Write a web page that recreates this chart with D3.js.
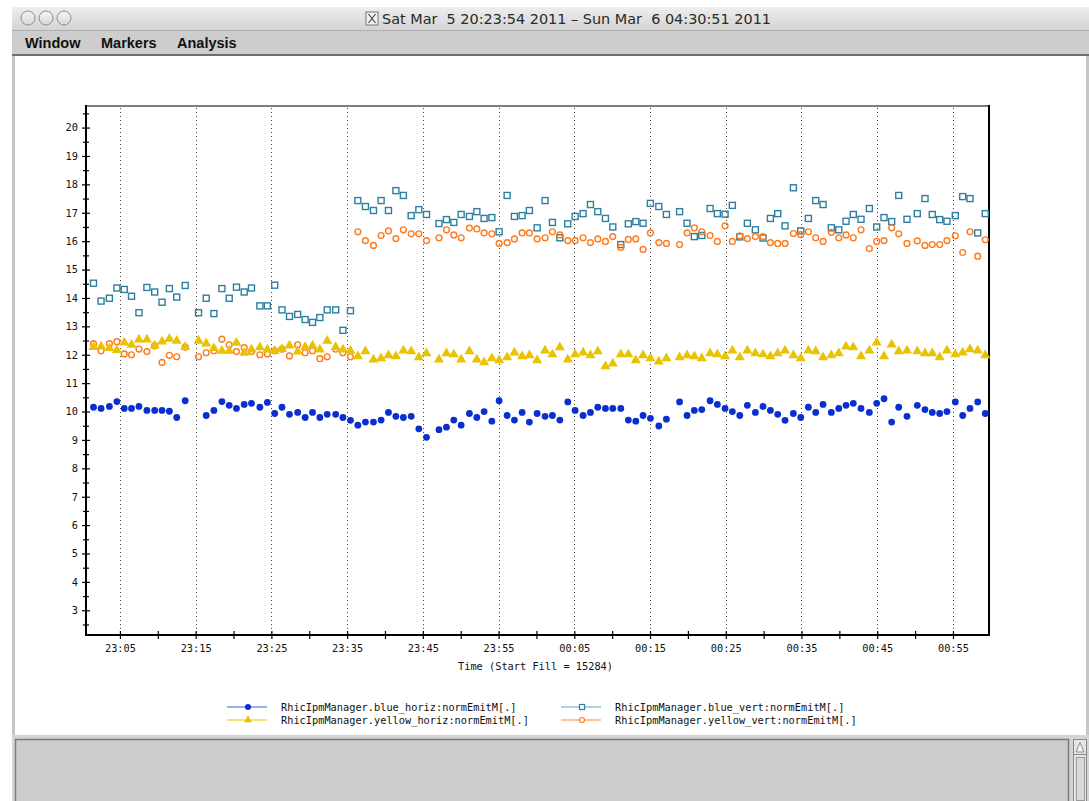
<!DOCTYPE html>
<html>
<head>
<meta charset="utf-8">
<script src="https://cdn.jsdelivr.net/npm/d3@7"></script>
<style>
  html, body { margin: 0; padding: 0; background: #fff; }
  svg { display: block; }
  text { white-space: pre; }
</style>
</head>
<body>
<svg id="win" width="1089" height="801"></svg>
<script>
// Sample times, minutes after 23:00 on Mar 5 2011
const times = [1.51,2.51,3.61,4.60,5.57,6.53,7.51,8.56,9.59,10.56,11.53,12.50,13.62,
  15.38,16.39,17.41,18.47,19.43,20.39,21.41,22.37,23.48,24.47,25.44,26.40,27.39,28.47,29.46,30.43,31.40,32.37,33.49,34.45,35.44,
  36.42,37.42,38.48,39.49,40.46,41.44,42.43,43.46,44.47,45.48,
  47.13,48.12,49.09,50.06,51.15,52.13,53.09,54.11,55.07,56.13,57.09,58.11,59.07,60.09,61.14,62.11,63.09,64.14,65.11,66.16,67.13,68.10,69.11,70.08,71.14,72.14,73.12,74.08,75.05,76.16,77.16,
  78.90,79.89,80.85,81.83,82.93,83.89,84.91,85.87,86.85,87.85,88.91,89.92,90.89,91.86,92.83,93.93,94.90,95.91,96.88,97.85,98.94,99.92,100.88,101.84,102.86,103.96,104.93,105.90,106.91,107.84,108.93,
  110.29,111.31,112.27,113.25,114.21,115.31,116.29,117.25,118.27,119.27];

const blueHoriz = [10.15,10.11,10.18,10.35,10.11,10.11,10.18,10.04,10.04,10.04,10.01,9.79,10.38,
  null,9.86,10.04,10.35,10.22,10.11,10.25,10.29,10.15,10.32,9.93,10.15,9.90,9.97,9.79,9.97,9.79,9.90,9.90,9.79,9.69,
  9.52,9.63,9.63,9.70,9.97,9.83,9.79,9.83,9.39,9.09,
  9.36,9.45,9.70,9.52,9.93,9.79,10.00,9.66,10.38,9.86,9.70,9.97,9.63,9.93,9.83,9.86,9.70,10.34,10.04,9.86,9.97,10.15,10.11,10.11,10.11,9.70,9.66,9.86,9.76,9.49,9.73,
  10.34,9.86,10.04,10.07,10.38,10.25,10.11,10.00,9.86,10.22,9.97,10.18,10.04,9.90,9.69,9.93,9.79,10.15,9.97,10.25,9.97,10.11,10.22,10.29,10.11,9.97,10.29,10.45,9.63,10.15,9.83,
  10.22,10.07,9.97,9.93,10.00,10.34,9.86,10.11,10.34,9.93];

const blueVert = [14.52,13.89,13.99,14.35,14.30,14.06,13.48,14.37,14.21,13.85,14.33,14.03,14.44,
  13.48,13.99,13.45,14.33,13.99,14.38,14.21,14.35,13.72,13.72,14.45,13.58,13.35,13.42,13.24,13.14,13.31,13.58,13.58,12.86,13.55,
  17.43,17.22,17.08,17.43,17.08,17.78,17.61,16.90,17.11,16.94,
  16.62,16.76,16.66,16.94,16.87,17.04,16.80,16.83,16.33,17.61,16.87,16.90,17.08,16.47,17.43,16.66,16.12,16.61,16.87,16.97,17.29,17.04,16.80,16.50,15.88,16.61,16.69,16.63,17.33,17.22,16.94,
  17.04,16.63,16.16,16.20,17.15,16.97,16.95,17.26,16.15,16.63,16.40,16.11,16.80,16.97,16.54,17.88,16.36,16.80,17.43,17.29,16.47,16.40,16.70,16.94,16.77,17.15,16.50,16.83,16.69,17.61,16.77,
  16.97,17.50,16.94,16.76,16.70,16.90,17.57,17.50,16.29,16.97];

const yellowHoriz = [12.27,12.29,12.23,12.16,12.43,12.35,12.53,12.53,12.32,12.46,12.56,12.49,12.27,
  12.49,12.39,12.23,12.14,12.14,12.42,12.07,12.18,12.26,12.18,12.14,12.20,12.32,12.11,12.27,12.32,12.18,12.49,12.27,12.18,12.14,
  11.94,12.12,11.83,11.87,11.98,11.94,12.15,12.12,11.91,12.05,
  11.83,12.05,12.01,11.83,12.12,11.83,11.73,11.87,11.80,11.91,12.08,11.94,11.98,11.80,12.15,12.01,12.26,11.83,12.01,12.08,11.98,12.12,11.59,11.69,12.01,12.01,11.80,11.98,11.87,11.76,11.87,
  11.91,11.98,11.94,11.87,12.05,12.01,11.94,12.15,11.91,12.15,12.05,12.01,11.94,12.05,12.15,11.98,11.87,12.15,12.12,11.91,11.98,12.05,12.29,12.26,11.94,12.15,12.43,11.94,12.36,12.12,12.15,
  12.12,12.05,12.05,11.91,12.15,12.01,12.08,12.19,12.15,11.98];

const yellowVert = [12.39,12.14,12.39,12.46,12.03,12.00,12.20,12.11,12.32,11.73,11.98,11.93,12.27,
  11.93,12.07,12.14,12.55,12.35,12.11,12.25,12.11,12.00,12.03,12.14,12.20,11.96,12.35,12.07,12.14,11.86,11.93,12.20,12.07,11.93,
  16.33,16.02,15.85,16.20,16.36,16.09,16.40,16.26,16.26,16.02,
  16.12,16.40,16.22,16.12,16.46,16.43,16.29,16.26,15.92,15.95,16.08,16.29,16.29,16.08,16.12,16.33,16.22,16.02,16.02,16.12,15.95,16.08,15.99,16.16,15.78,16.06,16.08,15.71,16.29,15.95,15.92,
  15.88,16.29,16.47,16.33,16.20,15.99,16.54,15.99,16.19,16.09,16.16,16.16,15.95,15.92,15.92,16.27,16.23,16.33,16.12,15.99,16.31,16.12,16.22,16.12,16.40,15.74,15.99,16.02,16.47,16.26,15.92,
  16.01,15.85,15.88,15.88,16.02,16.19,15.60,16.33,15.47,16.05];

const seriesNames = [
  "RhicIpmManager.blue_horiz:normEmitM[.]",
  "RhicIpmManager.blue_vert:normEmitM[.]",
  "RhicIpmManager.yellow_horiz:normEmitM[.]",
  "RhicIpmManager.yellow_vert:normEmitM[.]"
];
const yTickValues = d3.range(3, 21);
const menuItems = ["Window", "Markers", "Analysis"];
const windowTitle = "Sat Mar  5 20:23:54 2011 \u2013 Sun Mar  6 04:30:51 2011";
const xAxisTitle = "Time (Start Fill = 15284)";

const base = new Date(2011, 2, 5, 23, 0, 0);
const toDate = m => new Date(base.getTime() + m * 60000);

const svg = d3.select("#win");

// ---------- window chrome ----------
const defs = svg.append("defs");
const tg = defs.append("linearGradient").attr("id", "titleGrad").attr("x1", 0).attr("y1", 0).attr("x2", 0).attr("y2", 1);
tg.append("stop").attr("offset", "0%").attr("stop-color", "#eeeeee");
tg.append("stop").attr("offset", "100%").attr("stop-color", "#d3d3d3");
const bg = defs.append("linearGradient").attr("id", "btnGrad").attr("x1", 0).attr("y1", 0).attr("x2", 0).attr("y2", 1);
bg.append("stop").attr("offset", "0%").attr("stop-color", "#f4f4f4");
bg.append("stop").attr("offset", "100%").attr("stop-color", "#d8d8d8");

svg.append("rect").attr("x", 12).attr("y", 7).attr("width", 1077).attr("height", 24).attr("fill", "url(#titleGrad)");
svg.append("line").attr("x1", 12).attr("x2", 1089).attr("y1", 30.5).attr("y2", 30.5).attr("stroke", "#b0b0b0");
[28, 46, 64].forEach(cx => {
  svg.append("circle").attr("cx", cx).attr("cy", 18).attr("r", 7)
    .attr("fill", "url(#btnGrad)").attr("stroke", "#8e8e8e").attr("stroke-width", 1);
});
// X11 icon
const ic = svg.append("g").attr("transform", "translate(366,12)");
ic.append("rect").attr("width", 12).attr("height", 13).attr("fill", "#f2f2f2").attr("stroke", "#777");
ic.append("path").attr("d", "M2.5,2 L9.5,11 M9.5,2 L2.5,11").attr("stroke", "#444").attr("stroke-width", 1.2);
svg.append("text").attr("x", 382).attr("y", 23.5).text(windowTitle)
  .attr("font-family", "'Lucida Grande','DejaVu Sans','Liberation Sans',sans-serif")
  .attr("font-size", 13.5).attr("fill", "#2a2a2a")
  .attr("textLength", 389).attr("lengthAdjust", "spacingAndGlyphs");

// menu bar
svg.append("rect").attr("x", 12).attr("y", 31).attr("width", 1077).attr("height", 24).attr("fill", "#cdcdcd");
svg.append("rect").attr("x", 12).attr("y", 54).attr("width", 1077).attr("height", 2).attr("fill", "#6f6f6f");
const menuX = [25, 101, 177];
menuItems.forEach((m, i) => {
  svg.append("text").attr("x", menuX[i]).attr("y", 48).text(m)
    .attr("font-family", "'Liberation Sans',Arial,sans-serif").attr("font-weight", "bold")
    .attr("font-size", 14.5).attr("fill", "#111");
});

// side borders and bottom panel
svg.append("rect").attr("x", 12).attr("y", 56).attr("width", 3).attr("height", 745).attr("fill", "#c6c6c6");
svg.append("rect").attr("x", 1086).attr("y", 56).attr("width", 3).attr("height", 745).attr("fill", "#c6c6c6");
svg.append("rect").attr("x", 12).attr("y", 735).attr("width", 1077).attr("height", 66).attr("fill", "#d4d4d4");
svg.append("rect").attr("x", 15).attr("y", 739).attr("width", 1054).attr("height", 62).attr("fill", "#cccccc");
svg.append("path").attr("d", "M15.5,801 V739.5 H1068.5 V801").attr("fill", "none").attr("stroke", "#7c7c7c").attr("stroke-width", 1.5);
// scrollbar
svg.append("rect").attr("x", 1073.5).attr("y", 739.5).attr("width", 13).attr("height", 62).attr("fill", "#e4e4e4").attr("stroke", "#8a8a8a");
svg.append("path").attr("d", "M1076,752 L1080,742.5 L1084,752 Z").attr("fill", "#f2f2f2").attr("stroke", "#777").attr("stroke-width", 0.8);
svg.append("line").attr("x1", 1073.5).attr("x2", 1086.5).attr("y1", 754.5).attr("y2", 754.5).attr("stroke", "#8a8a8a");
svg.append("rect").attr("x", 1076.5).attr("y", 757.5).attr("width", 8).attr("height", 43).attr("fill", "#d8d8d8").attr("stroke", "#9a9a9a");

// ---------- chart ----------
const plot = { left: 86, right: 989, top: 106, bottom: 635 };
const x = d3.scaleTime()
  .domain([toDate(0.52), toDate(119.76)])
  .range([plot.left, plot.right]);
const y = d3.scaleLinear()
  .domain([2.13, 20.76])
  .range([plot.bottom, plot.top]);

const monoFont = "'DejaVu Sans Mono','Liberation Mono',monospace";
const g = svg.append("g");

// 5-minute ticks; labelled and gridded at :05, :15, ...
const fiveMin = d3.timeMinute.every(5).range(toDate(1), toDate(119.7));
const isMajor = d => d.getMinutes() % 10 === 5;
const hm = d3.timeFormat("%H:%M");

// vertical dotted grid lines at the labelled times
g.append("g").selectAll("line").data(fiveMin.filter(isMajor)).join("line")
  .attr("x1", d => Math.round(x(d)) + 0.5).attr("x2", d => Math.round(x(d)) + 0.5)
  .attr("y1", plot.top + 2).attr("y2", plot.bottom)
  .attr("stroke", "#444").attr("stroke-width", 1).attr("stroke-dasharray", "1,3");

// frame: grey top, black right
g.append("line").attr("x1", plot.left).attr("x2", plot.right).attr("y1", plot.top).attr("y2", plot.top)
  .attr("stroke", "#7d7d7d").attr("stroke-width", 2);
g.append("line").attr("x1", plot.right).attr("x2", plot.right).attr("y1", plot.top - 1).attr("y2", plot.bottom)
  .attr("stroke", "#000").attr("stroke-width", 2);

// x axis
const xAxis = d3.axisBottom(x).tickValues(fiveMin)
  .tickSizeInner(4).tickSizeOuter(0).tickPadding(6)
  .tickFormat(d => isMajor(d) ? hm(d) : "");
const xg = g.append("g").attr("transform", `translate(0,${plot.bottom})`).call(xAxis);
xg.select(".domain").attr("stroke", "#000").attr("stroke-width", 2).attr("d", `M${plot.left - 1},0H${plot.right + 1}`);
xg.selectAll(".tick line").attr("y1", -4).attr("y2", 4).attr("stroke", "#000").attr("stroke-width", 1.2);
xg.selectAll(".tick text").attr("font-family", monoFont).attr("font-size", 10.3).attr("fill", "#111").attr("dy", "0.71em");

// y axis: integer ticks with labels, half-unit minor ticks
const yAxis = d3.axisLeft(y).tickValues(yTickValues).tickSizeInner(4).tickSizeOuter(0).tickPadding(4)
  .tickFormat(d3.format("d"));
const yg = g.append("g").attr("transform", `translate(${plot.left},0)`).call(yAxis);
yg.select(".domain").attr("stroke", "#000").attr("stroke-width", 2).attr("d", `M0,${plot.top - 1}V${plot.bottom + 1}`);
yg.selectAll(".tick line").attr("x1", -4).attr("x2", 4).attr("stroke", "#000").attr("stroke-width", 1.2);
yg.selectAll(".tick text").attr("font-family", monoFont).attr("font-size", 10.3).attr("fill", "#111");
const yMinor = d3.axisLeft(y).tickValues(d3.range(2.5, 20.6, 1)).tickSize(0).tickFormat("");
const ym = g.append("g").attr("transform", `translate(${plot.left},0)`).call(yMinor);
ym.select(".domain").remove();
ym.selectAll(".tick line").attr("x1", -3).attr("x2", 3).attr("stroke", "#000").attr("stroke-width", 1.2);

g.append("text").attr("x", 458).attr("y", 670).text(xAxisTitle)
  .attr("font-family", monoFont).attr("font-size", 10.3).attr("fill", "#111");

// ---------- series ----------
const colBlue = "#0a2fd0", colTeal = "#2e7f9f", colGold = "#e9c200", colOrange = "#ff7a1a";
const rows = (vals) => times.map((t, i) => ({ t: toDate(t), v: vals[i] })).filter(d => d.v != null);

const triangle = d3.symbol().type(d3.symbolTriangle).size(44);

// blue_vert: open squares
g.append("g").selectAll("rect").data(rows(blueVert)).join("rect")
  .attr("x", d => x(d.t) - 3).attr("y", d => y(d.v) - 3).attr("width", 6).attr("height", 6)
  .attr("fill", "none").attr("stroke", colTeal).attr("stroke-width", 1.4);
// yellow_vert: open circles
g.append("g").selectAll("circle").data(rows(yellowVert)).join("circle")
  .attr("cx", d => x(d.t)).attr("cy", d => y(d.v)).attr("r", 2.9)
  .attr("fill", "none").attr("stroke", colOrange).attr("stroke-width", 1.4);
// yellow_horiz: filled triangles
g.append("g").selectAll("path").data(rows(yellowHoriz)).join("path")
  .attr("transform", d => `translate(${x(d.t)},${y(d.v)})`).attr("d", triangle)
  .attr("fill", colGold);
// blue_horiz: filled dots
g.append("g").selectAll("circle").data(rows(blueHoriz)).join("circle")
  .attr("cx", d => x(d.t)).attr("cy", d => y(d.v)).attr("r", 3.4)
  .attr("fill", colBlue);

// ---------- legend ----------
const legend = [
  { name: seriesNames[0], x: 227, y: 707, line: "#3c5be0", kind: "dot", col: colBlue },
  { name: seriesNames[1], x: 561, y: 707, line: "#62a3bf", kind: "square", col: colTeal },
  { name: seriesNames[2], x: 227, y: 720, line: "#ecc800", kind: "tri", col: colGold },
  { name: seriesNames[3], x: 561, y: 720, line: "#ff8c34", kind: "circle", col: colOrange }
];
const lg = g.append("g");
legend.forEach(L => {
  const e = lg.append("g").attr("transform", `translate(${L.x},${L.y})`);
  e.append("line").attr("x1", 0).attr("x2", 40).attr("y1", 0).attr("y2", 0).attr("stroke", L.line).attr("stroke-width", 1.2);
  if (L.kind === "dot") e.append("circle").attr("cx", 21).attr("r", 3).attr("fill", L.col);
  if (L.kind === "square") e.append("rect").attr("x", 18.5).attr("y", -2.5).attr("width", 5).attr("height", 5)
    .attr("fill", "#fff").attr("stroke", L.col).attr("stroke-width", 1.2);
  if (L.kind === "tri") e.append("path").attr("transform", "translate(21,0)").attr("d", d3.symbol().type(d3.symbolTriangle).size(28)).attr("fill", L.col);
  if (L.kind === "circle") e.append("circle").attr("cx", 21).attr("r", 2.5).attr("fill", "#fff").attr("stroke", L.col).attr("stroke-width", 1.2);
  e.append("text").attr("x", 54).attr("y", 0).attr("dy", "0.35em").text(L.name)
    .attr("font-family", monoFont).attr("font-size", 10.3).attr("fill", "#111");
});
</script>
</body>
</html>
